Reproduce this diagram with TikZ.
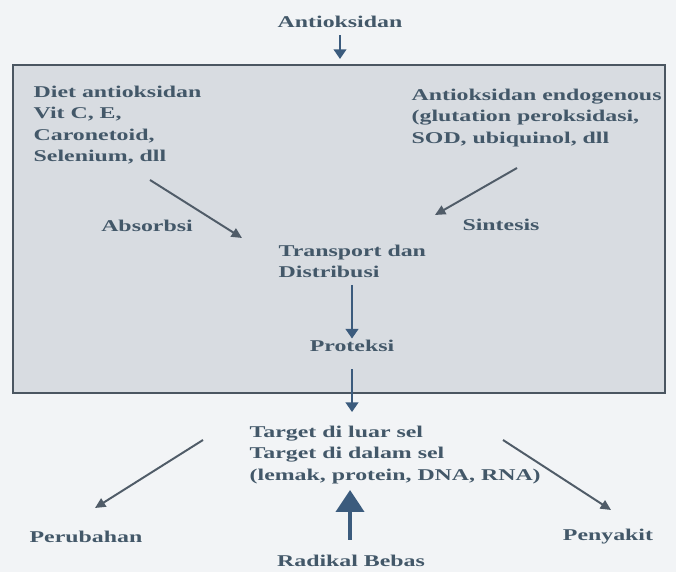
\documentclass[tikz,border=0pt]{standalone}
\usepackage{fontspec}
\setmainfont{Liberation Serif}[FakeStretch=1.45]
\usetikzlibrary{arrows.meta,positioning,calc}
\definecolor{Latar}{HTML}{F2F4F6}
\definecolor{Kotak}{HTML}{D8DCE1}
\definecolor{Bingkai}{HTML}{4B5661}
\definecolor{Tinta}{HTML}{435869}
\definecolor{Panah}{HTML}{505C68}
\definecolor{Biru}{HTML}{3B5B7D}
\tikzset{teks/.style={text=Tinta,inner sep=1pt,align=center},blok/.style={text=Tinta,inner sep=1pt,align=left,anchor=west},miring/.style={draw=Panah,line width=1.4pt,-{Triangle[length=2.6mm,width=2.4mm]}},tegak/.style={draw=Biru,line width=1.1pt,-{Triangle[length=2.4mm,width=3.2mm]}},tebal/.style={draw=Biru,line width=3pt,-{Triangle[length=5.5mm,width=7mm]}}}

\begin{document}
\begin{tikzpicture}[font=\bfseries\fontsize{11.7}{15.2}\selectfont,x=1cm,y=1cm]
\fill[Latar] (0,0) rectangle (16.9,14.3);
\node[draw=Bingkai,line width=1.8pt,fill=Kotak,minimum width=16.3cm,minimum height=8.2cm,inner sep=0] (kotak) at (8.475,8.575) {};
\node[teks] (judul) at (8.5,13.75) {Antioksidan};
\node[blok] (diet) at (0.8,11.175) {Diet antioksidan\\Vit C, E,\\Caronetoid,\\Selenium, dll};
\node[blok] (endo) at (10.25,11.35) {Antioksidan endogenous\\(glutation peroksidasi,\\ SOD, ubiquinol, dll};
\node[teks] (absorbsi) at (3.675,8.65) {Absorbsi};\node[teks] (sintesis) at (12.525,8.675) {Sintesis};
\node[blok] (transport) at (6.925,7.7625) {Transport dan\\Distribusi};
\node[teks] (proteksi) at (8.8,5.65) {Proteksi};
\node[blok] (target) at (6.2,2.925) {Target di luar sel\\Target di dalam sel\\(lemak, protein, DNA, RNA)};
\node[teks] (perubahan) at (2.15,0.875) {Perubahan};\node[teks] (penyakit) at (15.2,0.875) {Penyakit};
\node[teks] (radikal) at (8.775,0.27) {Radikal Bebas};
\coordinate (a1) at (3.75,9.8);\coordinate (b1) at (6.05,8.35);
\coordinate (a2) at (12.925,10.1);\coordinate (b2) at (10.875,8.925);
\coordinate (a5) at (5.075,3.3);\coordinate (b5) at (2.375,1.6);
\coordinate (a6) at (12.575,3.3);\coordinate (b6) at (15.275,1.55);
\draw[tegak,shorten <=1.5mm] (judul.south) -- ($(kotak.north -| judul.south)+(0,0.12)$);
\draw[miring] (a1) -- (b1);\draw[miring] (a2) -- (b2);
\draw[tegak] (8.8,7.175) -- (proteksi.north);
\draw[tegak,shorten <=4mm] (proteksi.south) -- (8.8,4.0);
\draw[miring] (a5) -- (b5);\draw[miring] (a6) -- (b6);
\draw[tebal] (radikal.north -| 8.75,0) ++(0,0.35) -- (8.75,2.05);
\end{tikzpicture}
\end{document}
